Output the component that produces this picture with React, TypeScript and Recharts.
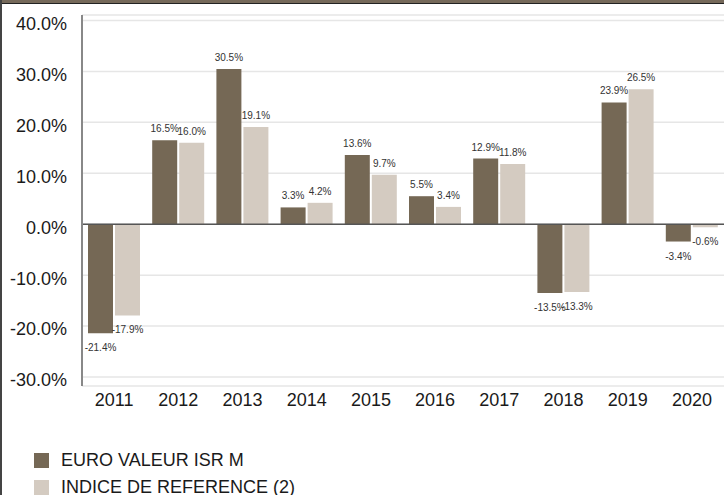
import { BarChart, Bar, XAxis, YAxis, CartesianGrid, ReferenceLine, LabelList } from 'recharts';

const years = ['2011', '2012', '2013', '2014', '2015', '2016', '2017', '2018', '2019', '2020'];
const fundValues = [-21.4, 16.5, 30.5, 3.3, 13.6, 5.5, 12.9, -13.5, 23.9, -3.4];
const indexValues = [-17.9, 16.0, 19.1, 4.2, 9.7, 3.4, 11.8, -13.3, 26.5, -0.6];
const yTicks = [-30, -20, -10, 0, 10, 20, 30, 40];

const FUND_NAME = 'EURO VALEUR ISR M';
const INDEX_NAME = 'INDICE DE REFERENCE (2)';
const FUND_COLOR = '#756855';
const INDEX_COLOR = '#d4cbc1';
const FONT = '"Liberation Sans", Arial, sans-serif';

const data = years.map((year, i) => ({
  year,
  fund: fundValues[i],
  index: indexValues[i],
}));

const pct = (v: number) => `${v.toFixed(1)}%`;

// étiquette au-dessus (positif) ou en dessous (négatif) de la barre
function BarValueLabel(props: any) {
  const { x, y, width, height, value } = props;
  if (value == null) return null;
  const top = Math.min(y, y + height);
  const bottom = Math.max(y, y + height);
  const ty = value >= 0 ? top - 8 : bottom + 18;
  return (
    <text x={x + width / 2} y={ty} textAnchor="middle" fontSize={10} fill="#333" fontFamily={FONT}>
      {pct(value)}
    </text>
  );
}

export default function App() {
  return (
    <div style={{ position: 'absolute', top: 0, left: 0, width: 724, height: 495, background: '#fff', overflow: 'hidden', fontFamily: FONT }}>
      <BarChart
        width={724}
        height={420}
        data={data}
        margin={{ top: 15, right: 0, bottom: 0, left: 0 }}
        barCategoryGap={6}
        barGap={2}
      >
        <CartesianGrid vertical={false} stroke="#e6e6e6" strokeWidth={1.5} />
        <XAxis
          dataKey="year"
          axisLine={false}
          tickLine={false}
          height={34}
          tickSize={0}
          tickMargin={7}
          tick={{ fontSize: 18, fill: '#1a1a1a', fontFamily: FONT }}
        />
        <YAxis
          width={82}
          domain={[-30, 40]}
          ticks={yTicks}
          interval={0}
          tickFormatter={pct}
          tickLine={false}
          tickSize={0}
          tickMargin={15}
          padding={{ top: 5.5, bottom: 9 }}
          axisLine={{ stroke: '#888', strokeWidth: 2 }}
          tick={{ fontSize: 18, fill: '#1a1a1a', fontFamily: FONT, dy: 3 }}
        />
        <ReferenceLine y={0} stroke="#555" strokeWidth={1.5} />
        <Bar dataKey="fund" name={FUND_NAME} fill={FUND_COLOR} isAnimationActive={false}>
          <LabelList dataKey="fund" content={BarValueLabel} />
        </Bar>
        <Bar dataKey="index" name={INDEX_NAME} fill={INDEX_COLOR} isAnimationActive={false}>
          <LabelList dataKey="index" content={BarValueLabel} />
        </Bar>
      </BarChart>

      {/* légende */}
      {[
        { name: FUND_NAME, color: FUND_COLOR, top: 453 },
        { name: INDEX_NAME, color: INDEX_COLOR, top: 480 },
      ].map((item) => (
        <div key={item.name} style={{ position: 'absolute', left: 34, top: item.top, display: 'flex', alignItems: 'center', height: 15 }}>
          <div style={{ width: 15, height: 15, background: item.color }} />
          <span style={{ marginLeft: 12, fontSize: 18, color: '#1a1a1a', lineHeight: '15px', whiteSpace: 'nowrap' }}>{item.name}</span>
        </div>
      ))}

      {/* cadre */}
      <div style={{ position: 'absolute', top: 0, left: 0, width: 724, height: 3, background: '#75695a' }} />
      <div style={{ position: 'absolute', top: 3, left: 0, width: 724, height: 1, background: '#222' }} />
      <div style={{ position: 'absolute', top: 0, left: 0, width: 2, height: 495, background: '#444' }} />
    </div>
  );
}
